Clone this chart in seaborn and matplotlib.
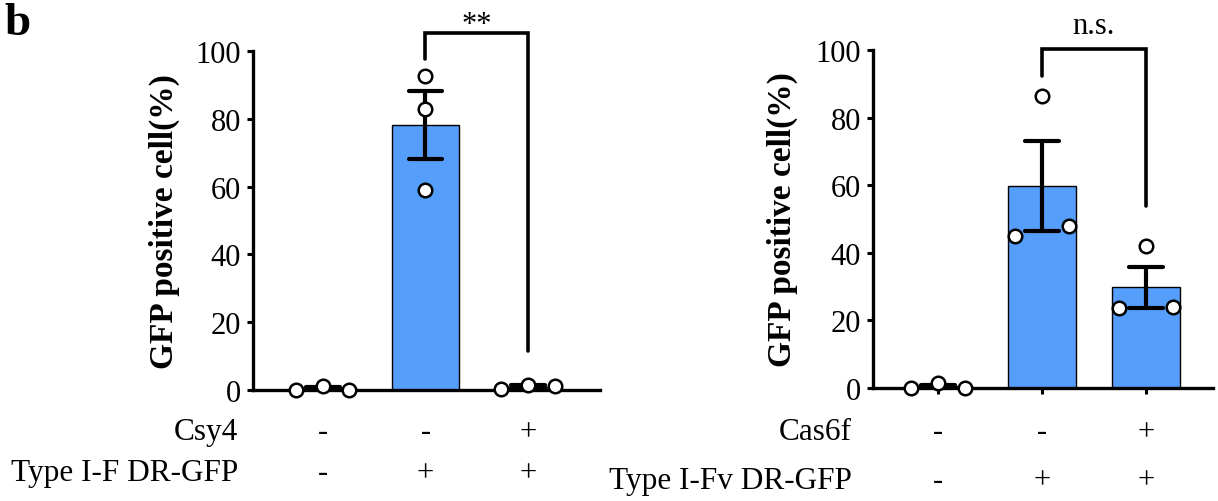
import numpy as np
import pandas as pd
import matplotlib
matplotlib.use("Agg")
import matplotlib.pyplot as plt
import seaborn as sns
from matplotlib.transforms import blended_transform_factory

# ---------------- data ----------------
groups = ["G1", "G2", "G3"]

# left panel replicate values (order: left, centre, right point)
left_g1 = [0.1, 1.2, 0.1]
left_g2 = [92.6, 82.9, 59.0]
left_g3 = [0.3, 1.5, 1.2]

# right panel replicate values
right_g1 = [0.1, 1.4, 0.1]
right_g2 = [45.0, 86.4, 48.0]
right_g3 = [23.7, 42.0, 23.9]

left_row1_name = "Csy4"
left_row1 = ["-", "-", "+"]
left_row2_name = "Type I-F DR-GFP"
left_row2 = ["-", "+", "+"]

right_row1_name = "Cas6f"
right_row1 = ["-", "-", "+"]
right_row2_name = "Type I-Fv DR-GFP"
right_row2 = ["-", "+", "+"]

yticks = [0, 20, 40, 60, 80, 100]
ylabel = "GFP positive cell(%)"
left_sig = "**"
right_sig = "n.s."
panel_letter = "b"

# ---------------- style ----------------
BAR = "#559EFB"
SERIF = ["Liberation Serif", "DejaVu Serif"]
spread = [-0.26, 0.0, 0.26]          # horizontal spread of replicate dots
left_spread_on = [True, False, True]
right_spread_on = [True, True, True]

sns.set_theme(style="white")
plt.rcParams["font.family"] = SERIF
for k in ["text.color", "axes.labelcolor", "xtick.color", "ytick.color", "axes.edgecolor"]:
    plt.rcParams[k] = "black"

fig = plt.figure(figsize=(12.18, 5.02), dpi=100)
axL = fig.add_axes([0.2077, 0.2211, 0.2849, 0.6753])
axR = fig.add_axes([0.7167, 0.2251, 0.2792, 0.6733])


def make_df(vals, spread_on):
    rows = []
    for gi, (g, v) in enumerate(zip(groups, vals)):
        for k, y in enumerate(v):
            off = spread[k] if spread_on[gi] else 0.0
            rows.append({"group": g, "value": y, "xpos": gi + off})
    return pd.DataFrame(rows)


def draw_panel(ax, vals, spread_on, xlim, ticks_on):
    df = make_df(vals, spread_on)
    sns.barplot(data=df, x="group", y="value", order=groups, errorbar="se",
                width=0.65, color=BAR, saturation=1, edgecolor="black",
                linewidth=1.0, capsize=0.33,
                err_kws={"linewidth": 3.0, "color": "black"}, ax=ax)
    sns.scatterplot(data=df, x="xpos", y="value", ax=ax, s=95, color="white",
                    edgecolor="black", linewidth=1.8, zorder=5, clip_on=False,
                    legend=False)
    ax.set_xlim(*xlim)
    ax.set_ylim(0, 100)
    ax.set_yticks(yticks)
    ax.set_yticklabels([str(t) for t in yticks], fontsize=22, family=SERIF)
    ax.set_xticks(range(len(groups)))
    ax.set_xticklabels([])
    ax.set_xlabel("")
    ax.set_ylabel(ylabel, fontsize=24, fontweight="bold", family=SERIF)
    for s in ["top", "right"]:
        ax.spines[s].set_visible(False)
    for s in ["left", "bottom"]:
        ax.spines[s].set_linewidth(2.4)
        ax.spines[s].set_color("black")
        ax.spines[s].set_zorder(3)
    ax.tick_params(axis="y", length=4.5, width=2.2, pad=4, colors="black",
                   direction="out", left=True)
    ax.tick_params(axis="x", length=(4.5 if ticks_on else 0), width=2.2,
                   direction="out", bottom=True, colors="black")
    ax.set_facecolor("white")


draw_panel(axL, [left_g1, left_g2, left_g3], left_spread_on, (-0.68, 2.70), False)
draw_panel(axR, [right_g1, right_g2, right_g3], right_spread_on, (-0.625, 2.645), True)
axL.yaxis.set_label_coords(-0.21, 0.5)
axR.yaxis.set_label_coords(-0.22, 0.5)

# condition rows under x axis
def rows(ax, name1, r1, name2, r2, xname, y1, y2):
    tr = blended_transform_factory(ax.transData, fig.transFigure)
    for i, (a, b) in enumerate(zip(r1, r2)):
        ax.text(i, y1, a, transform=tr, ha="center", va="center", fontsize=22,
                family=SERIF, color="black")
        ax.text(i, y2, b, transform=tr, ha="center", va="center", fontsize=22,
                family=SERIF, color="black")
    fig.text(xname, y1, name1, ha="right", va="center", fontsize=22.5,
             family=SERIF, color="black")
    fig.text(xname, y2, name2, ha="right", va="center", fontsize=22.5,
             family=SERIF, color="black")

rows(axL, left_row1_name, left_row1, left_row2_name, left_row2, 0.1954, 0.1375, 0.0558)
rows(axR, right_row1_name, right_row1, right_row2_name, right_row2, 0.6995, 0.1375, 0.0418)

# significance brackets
def bracket(ax, x1, x2, ytop, yl, yr, label, dy):
    ax.plot([x1, x1, x2, x2], [yl, ytop, ytop, yr], color="black", lw=2.6,
            clip_on=False, solid_joinstyle="miter", zorder=6)
    ax.text((x1 + x2) / 2, ytop + dy, label, ha="center", va="baseline",
            fontsize=22, family=SERIF, clip_on=False, color="black")

bracket(axL, 1, 2, 105.3, 97.7, 11.5, left_sig, 0.3)
bracket(axR, 1, 2, 100.3, 92.3, 53.7, right_sig, 4.7)

fig.text(0.004, 0.995, panel_letter, ha="left", va="top", fontsize=34,
         fontweight="bold", family=SERIF, color="black")

fig.savefig("out.png", dpi=100, facecolor="white")
